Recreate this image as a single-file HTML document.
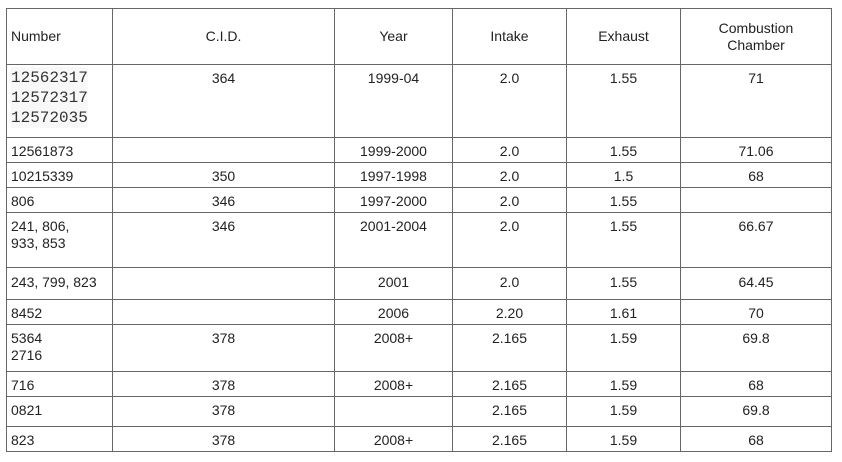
<!DOCTYPE html>
<html><head><meta charset="utf-8"><style>
body{margin:0;background:#fff;width:842px;height:462px;overflow:hidden;font-family:"Liberation Sans",Arial,sans-serif;}
table{position:absolute;left:6px;top:8px;border-collapse:collapse;table-layout:fixed;font-size:14px;color:#222;}
td{border:1px solid #666;padding:5px 4px 0 4px;vertical-align:top;text-align:center;line-height:17px;overflow:hidden;}
td.n{text-align:left;}
tr.h td{vertical-align:middle;padding-top:0;}
.mono{font-family:"Liberation Mono",monospace;font-size:16px;line-height:20px;color:#333;background:#f8f8f8;display:inline-block;padding-top:1px}
</style></head><body>
<table>
<colgroup><col style="width:106px"><col style="width:222px"><col style="width:118px"><col style="width:114px"><col style="width:114px"><col style="width:151px"></colgroup>
<tr class="h" style="height:56px"><td class="n">Number</td><td>C.I.D.</td><td>Year</td><td>Intake</td><td>Exhaust</td><td>Combustion<br>Chamber</td></tr>
<tr style="height:73px"><td class="n" style="padding-top:2px"><span class="mono">12562317<br>12572317<br>12572035</span></td><td>364</td><td>1999-04</td><td>2.0</td><td>1.55</td><td>71</td></tr>
<tr style="height:25px"><td class="n">12561873</td><td></td><td>1999-2000</td><td>2.0</td><td>1.55</td><td>71.06</td></tr>
<tr style="height:25px"><td class="n">10215339</td><td>350</td><td>1997-1998</td><td>2.0</td><td>1.5</td><td>68</td></tr>
<tr style="height:25px"><td class="n">806</td><td>346</td><td>1997-2000</td><td>2.0</td><td>1.55</td><td></td></tr>
<tr style="height:55px"><td class="n">241, 806,<br>933, 853</td><td>346</td><td>2001-2004</td><td>2.0</td><td>1.55</td><td>66.67</td></tr>
<tr style="height:32px"><td class="n" style="padding-top:6px">243, 799, 823</td><td></td><td style="padding-top:6px">2001</td><td style="padding-top:6px">2.0</td><td style="padding-top:6px">1.55</td><td style="padding-top:6px">64.45</td></tr>
<tr style="height:25px"><td class="n">8452</td><td></td><td>2006</td><td>2.20</td><td>1.61</td><td>70</td></tr>
<tr style="height:47px"><td class="n">5364<br>2716</td><td>378</td><td>2008+</td><td>2.165</td><td>1.59</td><td>69.8</td></tr>
<tr style="height:25px"><td class="n">716</td><td>378</td><td>2008+</td><td>2.165</td><td>1.59</td><td>68</td></tr>
<tr style="height:30px"><td class="n">0821</td><td>378</td><td></td><td>2.165</td><td>1.59</td><td>69.8</td></tr>
<tr style="height:25px"><td class="n">823</td><td>378</td><td>2008+</td><td>2.165</td><td>1.59</td><td>68</td></tr>
</table>
</body></html>
